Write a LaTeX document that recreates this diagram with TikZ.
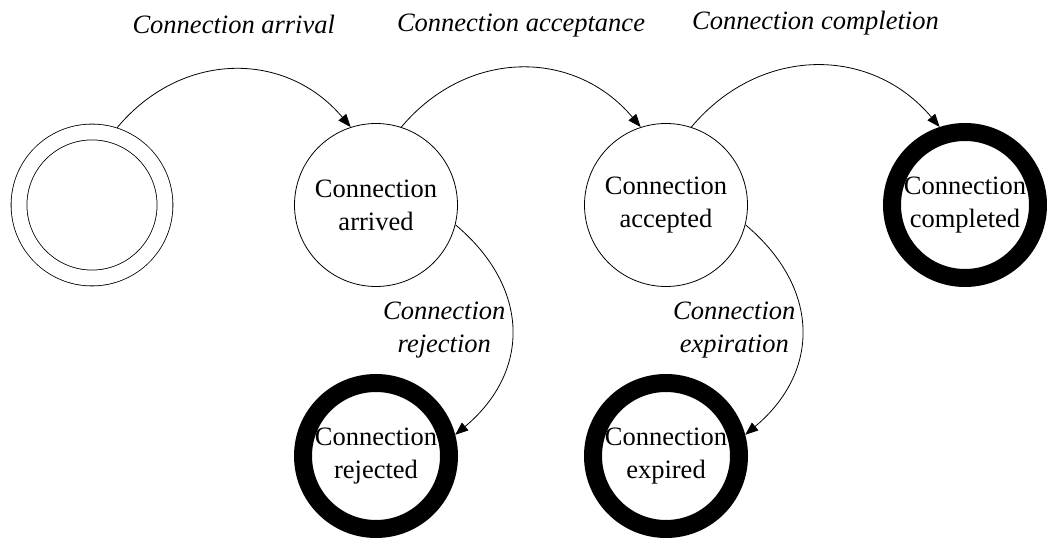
\documentclass[tikz,border=0pt]{standalone}
\usepackage{fontspec}
\setmainfont{Liberation Serif}
\usetikzlibrary{arrows.meta}
\usetikzlibrary{positioning}

\tikzset{
	midstate/.style={circle, draw, minimum size=163pt, inner sep=0pt, outer sep=0.4pt, align=center, font=\fontsize{26.5}{33}\selectfont},
	initstate/.style={midstate, double, double distance=15pt, minimum size=146pt, outer sep=8.3pt},
	endstate/.style={midstate, line width=18pt, minimum size=146pt, outer sep=9pt},
	translabel/.style={font=\fontsize{26.5}{33}\selectfont\itshape, inner sep=0pt, align=center}
}

\begin{document}
\begin{tikzpicture}[thick, >={Triangle[length=13pt,width=10pt]}, on grid]
	\useasboundingbox (0,0) rectangle (1047pt,538pt);
	\node[initstate] (S0) at (92pt,333pt) {};
	\node[midstate, right=284pt of S0] (Arrived) {Connection\\arrived};
	\node[midstate, right=290pt of Arrived] (Accepted) {Connection\\accepted};
	\node[endstate, right=299pt of Accepted] (Completed) {Connection\\completed};
	\node[endstate, below=251pt of Arrived] (Rejected) {Connection\\rejected};
	\node[endstate, below=251pt of Accepted] (Expired) {Connection\\expired};
	\path[->]
	(S0.72)	edge [bend left=50, looseness=1.1]	node[above=36pt, translabel, text depth=0pt] (Larrival) {Connection arrival}	(Arrived.108)
	(Arrived.72)	edge [bend left=50, looseness=1.1]	node[above=36pt, translabel, text depth=0pt] (Lacceptance) {Connection acceptance}	(Accepted.108)
	(Accepted.72)	edge [bend left=50, looseness=1.1]	node[above=36pt, translabel, text depth=0pt] (Lcompletion) {Connection completion}	(Completed.108)
	(Arrived.-14)	edge [bend left=50, looseness=1.2]	node[left=6pt, translabel] (Lrejection) {Connection\\rejection}	(Rejected.15)
	(Accepted.-14)	edge [bend left=50, looseness=1.2]	node[left=6pt, translabel] (Lexpiration) {Connection\\expiration}	(Expired.15);
\end{tikzpicture}
\end{document}
